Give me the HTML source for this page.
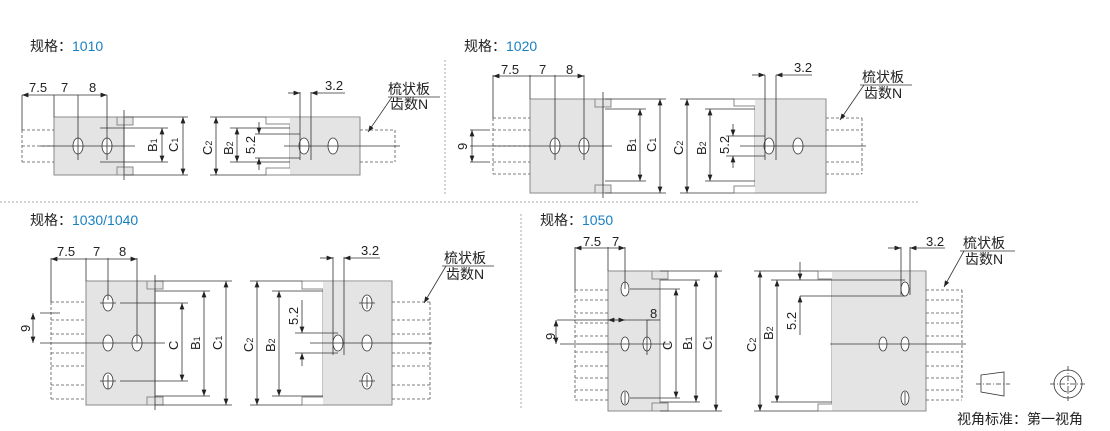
<!DOCTYPE html>
<html><head><meta charset="utf-8"><style>
body{margin:0;background:#fff;width:1110px;height:431px;overflow:hidden}
svg{display:block}
text{font-family:"Liberation Sans","Noto Sans CJK SC",sans-serif;fill:#222}
.b{fill:#e4e4e4;stroke:#8a8a8a;stroke-width:1}
.w{fill:#fff;stroke:#8a8a8a;stroke-width:1}
.g{fill:#e4e4e4;stroke:none}
.l{stroke:#333;stroke-width:0.8;fill:none}
.d{stroke:#555;stroke-width:0.8;fill:none;stroke-dasharray:3 2}
.h{fill:#fff;stroke:#333;stroke-width:0.8}
.sep{stroke:#aaa;stroke-width:1;stroke-dasharray:2 2;fill:none}
</style></head><body>
<svg width="1110" height="431" viewBox="0 0 1110 431" xmlns="http://www.w3.org/2000/svg">
<defs>
<marker id="a" viewBox="0 0 8 6" refX="8" refY="3" markerWidth="8" markerHeight="6" orient="auto-start-reverse"><path d="M0,0L8,3L0,6z" fill="#222"/></marker>
</defs>
<line class="sep" x1="445" y1="60" x2="445" y2="196"/>
<line class="sep" x1="0" y1="202" x2="920" y2="202"/>
<line class="sep" x1="521" y1="214" x2="521" y2="410"/>

<text x="30" y="51" font-size="14">规格：<tspan fill="#1a7fc1">1010</tspan></text>
<text x="464" y="51" font-size="14">规格：<tspan fill="#1a7fc1">1020</tspan></text>
<text x="30" y="225" font-size="14">规格：<tspan fill="#1a7fc1">1030/1040</tspan></text>
<text x="540" y="225" font-size="14">规格：<tspan fill="#1a7fc1">1050</tspan></text>

<!-- ===== 1010 ===== -->
<g>
<rect class="b" x="54" y="117" width="70" height="58"/>
<rect class="b" x="117" y="117" width="16" height="8"/><rect class="b" x="117" y="167" width="16" height="8"/>
<path class="d" d="M22,130H54M22,146H54M22,162H54M22,130V162"/>
<ellipse class="h" cx="78" cy="146" rx="5" ry="8"/><ellipse class="h" cx="107" cy="146" rx="5" ry="8"/>
<path class="l" d="M40,146H135M78,95V160M107,95V160M54,95V117M22,95V130M124,110V180"/>
<path class="l" d="M22,95H107" marker-start="url(#a)" marker-end="url(#a)"/>
<text x="29" y="92" font-size="13">7.5</text><text x="61" y="92" font-size="13">7</text><text x="89" y="92" font-size="13">8</text>
<path class="l" d="M100,128H168M125,117H188M125,175H188"/>
<path class="l" d="M162,128V162" marker-start="url(#a)" marker-end="url(#a)"/>
<path class="l" d="M100,162H168"/>
<path class="l" d="M183,117V175" marker-start="url(#a)" marker-end="url(#a)"/>
<text font-size="13" transform="translate(157,152) rotate(-90)">B<tspan font-size="9">1</tspan></text>
<text font-size="13" transform="translate(178,152) rotate(-90)">C<tspan font-size="9">1</tspan></text>
<path class="w" d="M266,117H360V175H266V168H290V124H266Z"/>
<rect class="g" x="290" y="118" width="69.5" height="56.5"/>
<path class="d" d="M360,130H395M360,162H395M395,130V162"/>
<ellipse class="h" cx="304" cy="146" rx="5" ry="8"/><ellipse class="h" cx="333" cy="146" rx="5" ry="8"/>
<path class="l" d="M284,146H400M300,92V160M311,92V160M210,117H266M210,175H266M230,128H290M230,162H290M255,134H300M255,158H300"/>
<path class="l" d="M216,117V175" marker-start="url(#a)" marker-end="url(#a)"/>
<path class="l" d="M237,128V162" marker-start="url(#a)" marker-end="url(#a)"/>
<path class="l" d="M259,122V134" marker-end="url(#a)"/><path class="l" d="M259,170V158" marker-end="url(#a)"/>
<path class="l" d="M288,93H300" marker-end="url(#a)"/><path class="l" d="M345,93H311" marker-end="url(#a)"/>
<text x="325" y="90" font-size="13">3.2</text>
<text font-size="13" transform="translate(212,155) rotate(-90)">C<tspan font-size="9">2</tspan></text>
<text font-size="13" transform="translate(233,155) rotate(-90)">B<tspan font-size="9">2</tspan></text>
<text font-size="13" transform="translate(255,154) rotate(-90)">5.2</text>
<text x="388" y="94" font-size="14">梳状板</text><text x="390" y="109" font-size="14">齿数N</text>
<path class="l" d="M388,97H440M392,97L368,132" marker-end="url(#a)"/>
</g>

<!-- ===== 1020 ===== -->
<g>
<rect class="b" x="530" y="99" width="73" height="94"/>
<rect class="b" x="595" y="99" width="16" height="8"/><rect class="b" x="595" y="185" width="16" height="8"/>
<path class="d" d="M493,118H530M493,130H530M493,146H530M493,162H530M493,174H530M493,118V174"/>
<ellipse class="h" cx="555" cy="146" rx="5" ry="8"/><ellipse class="h" cx="584" cy="146" rx="5" ry="8"/>
<path class="l" d="M470,146H612M555,75V160M584,75V160M530,75V99M493,75V118M603,92V198"/>
<path class="l" d="M493,76H584" marker-start="url(#a)" marker-end="url(#a)"/>
<text x="501" y="74" font-size="13">7.5</text><text x="539" y="74" font-size="13">7</text><text x="566" y="74" font-size="13">8</text>
<path class="l" d="M470,130H490M470,162H490"/>
<path class="l" d="M472,130V162" marker-start="url(#a)" marker-end="url(#a)"/>
<text font-size="13" transform="translate(467,150) rotate(-90)">9</text>
<path class="l" d="M605,109H646M605,181H646M605,99H666M605,193H666"/>
<path class="l" d="M640,109V181" marker-start="url(#a)" marker-end="url(#a)"/>
<path class="l" d="M660,99V193" marker-start="url(#a)" marker-end="url(#a)"/>
<text font-size="13" transform="translate(636,152) rotate(-90)">B<tspan font-size="9">1</tspan></text>
<text font-size="13" transform="translate(656,152) rotate(-90)">C<tspan font-size="9">1</tspan></text>
<path class="w" d="M734,99H826V193H734V186H755V106H734Z"/>
<rect class="g" x="755" y="100" width="70.5" height="92.5"/>
<path class="d" d="M826,118H862M826,130H862M826,162H862M826,174H862M862,118V174"/>
<ellipse class="h" cx="769" cy="146" rx="5" ry="8"/><ellipse class="h" cx="798" cy="146" rx="5" ry="8"/>
<path class="l" d="M740,146H866M765,75V160M776,75V160M680,99H734M680,193H734M705,109H755M705,181H755M726,136H765M726,156H765"/>
<path class="l" d="M687,99V193" marker-start="url(#a)" marker-end="url(#a)"/>
<path class="l" d="M710,109V181" marker-start="url(#a)" marker-end="url(#a)"/>
<path class="l" d="M733,124V136" marker-end="url(#a)"/><path class="l" d="M733,168V156" marker-end="url(#a)"/>
<path class="l" d="M752,75H765" marker-end="url(#a)"/><path class="l" d="M812,75H776" marker-end="url(#a)"/>
<text x="794" y="72" font-size="13">3.2</text>
<text font-size="13" transform="translate(683,155) rotate(-90)">C<tspan font-size="9">2</tspan></text>
<text font-size="13" transform="translate(706,155) rotate(-90)">B<tspan font-size="9">2</tspan></text>
<text font-size="13" transform="translate(729,154) rotate(-90)">5.2</text>
<text x="862" y="82" font-size="14">梳状板</text><text x="864" y="98" font-size="14">齿数N</text>
<path class="l" d="M860,85H912M864,85L840,120" marker-end="url(#a)"/>
</g>

<!-- ===== 1030/1040 ===== -->
<g>
<rect class="b" x="86" y="281" width="69" height="124"/>
<rect class="b" x="147" y="281" width="16" height="8"/><rect class="b" x="147" y="397" width="16" height="8"/>
<path class="d" d="M51,302H86M51,320H86M51,334H86M51,353H86M51,366H86M51,385H86M51,399H86M51,302V399"/>
<ellipse class="h" cx="108" cy="303" rx="5" ry="8"/><ellipse class="h" cx="108" cy="343" rx="5" ry="8"/><ellipse class="h" cx="108" cy="381" rx="5" ry="8"/><ellipse class="h" cx="137" cy="343" rx="5" ry="8"/>
<path class="l" d="M40,343H165M108,258V300M137,258V343M86,258V281M51,258V302M155,275V410M120,303H188M120,381H188M40,313H60M155,291H210M155,396H210M155,281H232M155,405H232M100,303H116M100,381H116M108,375V389"/>
<path class="l" d="M51,259H137" marker-start="url(#a)" marker-end="url(#a)"/>
<text x="57" y="256" font-size="13">7.5</text><text x="93" y="256" font-size="13">7</text><text x="119" y="256" font-size="13">8</text>
<path class="l" d="M33,313V343" marker-start="url(#a)" marker-end="url(#a)"/>
<text font-size="13" transform="translate(30,332) rotate(-90)">9</text>
<path class="l" d="M182,303V381" marker-start="url(#a)" marker-end="url(#a)"/>
<path class="l" d="M204,291V396" marker-start="url(#a)" marker-end="url(#a)"/>
<path class="l" d="M226,281V405" marker-start="url(#a)" marker-end="url(#a)"/>
<text font-size="13" transform="translate(178,350) rotate(-90)">C</text>
<text font-size="13" transform="translate(200,350) rotate(-90)">B<tspan font-size="9">1</tspan></text>
<text font-size="13" transform="translate(222,350) rotate(-90)">C<tspan font-size="9">1</tspan></text>
<path class="w" d="M302,281H392V405H302V397H323V289H302Z"/>
<rect class="g" x="323" y="282" width="68.5" height="122.5"/>
<path class="d" d="M392,302H430M392,320H430M392,334H430M392,353H430M392,366H430M392,385H430M392,399H430M430,302V399"/>
<ellipse class="h" cx="338" cy="343" rx="5" ry="8"/><ellipse class="h" cx="367" cy="303" rx="5" ry="8"/><ellipse class="h" cx="367" cy="343" rx="5" ry="8"/><ellipse class="h" cx="367" cy="381" rx="5" ry="8"/>
<path class="l" d="M310,343H432M333,257V355M344,257V355M250,281H302M250,405H302M272,291H323M272,396H323M295,333H338M295,353H338M359,303H375M359,381H375M367,297V309M367,375V387"/>
<path class="l" d="M257,281V405" marker-start="url(#a)" marker-end="url(#a)"/>
<path class="l" d="M279,291V396" marker-start="url(#a)" marker-end="url(#a)"/>
<path class="l" d="M302,300V333" marker-end="url(#a)"/><path class="l" d="M302,366V353" marker-end="url(#a)"/>
<path class="l" d="M320,258H333" marker-end="url(#a)"/><path class="l" d="M380,258H344" marker-end="url(#a)"/>
<text x="361" y="255" font-size="13">3.2</text>
<text font-size="13" transform="translate(253,352) rotate(-90)">C<tspan font-size="9">2</tspan></text>
<text font-size="13" transform="translate(275,352) rotate(-90)">B<tspan font-size="9">2</tspan></text>
<text font-size="13" transform="translate(298,325) rotate(-90)">5.2</text>
<text x="444" y="263" font-size="14">梳状板</text><text x="446" y="279" font-size="14">齿数N</text>
<path class="l" d="M442,266H494M446,266L424,303" marker-end="url(#a)"/>
</g>

<!-- ===== 1050 ===== -->
<g>
<rect class="b" x="608" y="271" width="52" height="140"/>
<rect class="b" x="652" y="271" width="16" height="8"/><rect class="b" x="652" y="403" width="16" height="8"/>
<path class="d" d="M575,290H608M575,300H608M575,313H608M575,323H608M575,336H608M575,352H608M575,366H608M575,378H608M575,390H608M575,400H608M575,290V400"/>
<ellipse class="h" cx="625" cy="289" rx="4" ry="7"/><ellipse class="h" cx="625" cy="344" rx="4" ry="7"/><ellipse class="h" cx="647" cy="344" rx="4" ry="7"/><ellipse class="h" cx="625" cy="398" rx="4" ry="7"/>
<path class="l" d="M560,344H670M625,247V289M575,247V290M608,247V271M647,320V355M630,289H680M630,398H680M557,320H650M660,280H700M660,402H700M660,271H722M660,411H722M625,392V404"/>
<path class="l" d="M575,248H625" marker-start="url(#a)" marker-end="url(#a)"/>
<path class="l" d="M608,320H625" marker-start="url(#a)" marker-end="url(#a)"/>
<path class="l" d="M647,320H660"/>
<text x="583" y="246" font-size="13">7.5</text><text x="612" y="246" font-size="13">7</text><text x="650" y="318" font-size="13">8</text>
<path class="l" d="M556,320V344" marker-start="url(#a)" marker-end="url(#a)"/>
<text font-size="13" transform="translate(555,340) rotate(-90)">9</text>
<path class="l" d="M676,289V398" marker-start="url(#a)" marker-end="url(#a)"/>
<path class="l" d="M696,280V402" marker-start="url(#a)" marker-end="url(#a)"/>
<path class="l" d="M716,271V411" marker-start="url(#a)" marker-end="url(#a)"/>
<text font-size="13" transform="translate(672,350) rotate(-90)">C</text>
<text font-size="13" transform="translate(692,350) rotate(-90)">B<tspan font-size="9">1</tspan></text>
<text font-size="13" transform="translate(712,350) rotate(-90)">C<tspan font-size="9">1</tspan></text>
<path class="w" d="M818,271H926V411H818V404H832V279H818Z"/>
<rect class="g" x="832" y="272" width="93.5" height="138.5"/>
<path class="d" d="M926,290H962M926,300H962M926,313H962M926,323H962M926,336H962M926,352H962M926,366H962M926,378H962M926,390H962M926,400H962M962,290V400"/>
<ellipse class="h" cx="883" cy="344" rx="4" ry="7"/><ellipse class="h" cx="905" cy="289" rx="4" ry="7"/><ellipse class="h" cx="905" cy="344" rx="4" ry="7"/><ellipse class="h" cx="905" cy="398" rx="4" ry="7"/>
<path class="l" d="M830,344H966M901,247V295M910,247V295M754,271H818M754,411H818M771,280H832M771,402H832M800,280H905M800,296H905M905,392V404"/>
<path class="l" d="M760,271V411" marker-start="url(#a)" marker-end="url(#a)"/>
<path class="l" d="M777,280V402" marker-start="url(#a)" marker-end="url(#a)"/>
<path class="l" d="M800,262V280" marker-end="url(#a)"/><path class="l" d="M800,335V296" marker-end="url(#a)"/>
<path class="l" d="M888,248H901" marker-end="url(#a)"/><path class="l" d="M945,248H910" marker-end="url(#a)"/>
<text x="926" y="246" font-size="13">3.2</text>
<text font-size="13" transform="translate(756,352) rotate(-90)">C<tspan font-size="9">2</tspan></text>
<text font-size="13" transform="translate(773,340) rotate(-90)">B<tspan font-size="9">2</tspan></text>
<text font-size="13" transform="translate(796,330) rotate(-90)">5.2</text>
<text x="963" y="248" font-size="14">梳状板</text><text x="965" y="264" font-size="14">齿数N</text>
<path class="l" d="M960,251H1015M964,251L944,287" marker-end="url(#a)"/>
<path class="l" d="M981,375L1004,372V396L981,392Z"/>
<path class="l" d="M976,384H1010" stroke-dasharray="5 2 1 2"/>
<circle class="l" cx="1068" cy="384" r="14"/><circle class="l" cx="1068" cy="384" r="8"/>
<path class="l" d="M1050,384H1086M1068,366V402" stroke-dasharray="5 2 1 2"/>
<text x="957" y="424" font-size="14">视角标准：第一视角</text>
</g>
</svg>
</body></html>
